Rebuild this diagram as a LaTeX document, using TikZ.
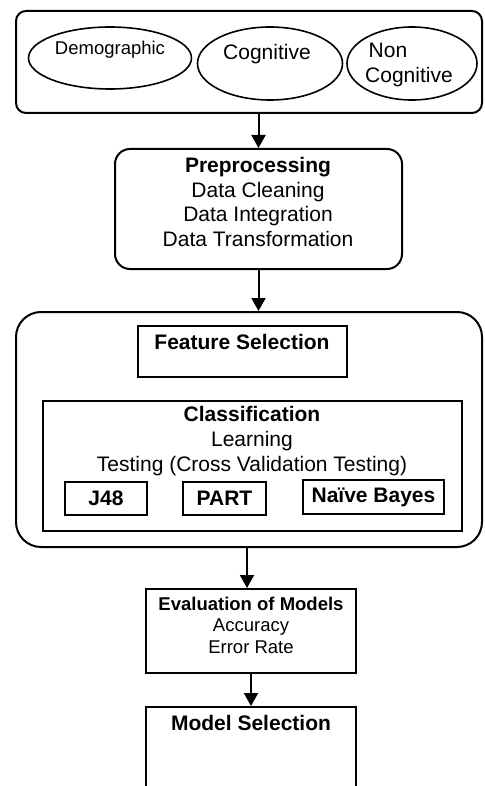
\documentclass[tikz,border=0pt]{standalone}
\usepackage{fontspec}
\setmainfont{Liberation Sans}
\usetikzlibrary{shapes.geometric,arrows.meta}

\begin{document}
\begin{tikzpicture}[x=1pt,y=-1pt,line width=2pt,
  every node/.style={inner sep=0pt},
  big/.style={font=\fontsize{21}{24.7}\selectfont,align=center},
  mid/.style={font=\fontsize{18.5}{21.5}\selectfont,align=center},
  oval/.style={ellipse,draw,line width=1.6pt},
  flow/.style={-{Triangle[length=13pt,width=14pt]}}]
  \useasboundingbox (0,0) rectangle (484,786);

  % data sources
  \node[draw,rounded corners=10pt,minimum width=466pt,minimum height=102pt] (src) at (249,62) {};
  \node[oval,minimum width=163pt,minimum height=62pt] (demo) at (110,58) {};
  \node[oval,minimum width=145pt,minimum height=73pt] (cog) at (270,63.5) {};
  \node[oval,minimum width=130pt,minimum height=73pt] (noncog) at (412,63.5) {};
  \node[mid] (demot) at (110,50) {Demographic};
  \node[big] (cogt) at (267,54) {Cognitive};
  \node[big,align=left] (noncogt) at (409,65) {\,Non\\Cognitive};

  % preprocessing
  \node[draw,rounded corners=15pt,minimum width=287pt,minimum height=120pt] (pre) at (258.5,209) {};
  \node[big] (pret) at (258,202) {\textbf{Preprocessing}\\Data Cleaning\\Data Integration\\Data Transformation};

  % feature selection and classification
  \node[draw,rounded corners=25pt,minimum width=466pt,minimum height=235pt] (mine) at (249,429.5) {};
  \node[draw,minimum width=209pt,minimum height=51pt] (feat) at (242.5,351.5) {};
  \node[big,font=\fontsize{21}{24.7}\selectfont\bfseries] (featt) at (242,342) {Feature Selection};
  \node[draw,minimum width=419pt,minimum height=130pt] (cls) at (252.5,466) {};
  \node[big] (clst) at (252,441) {\textbf{Classification}\\Learning\\Testing (Cross Validation Testing)};
  \node[draw,minimum width=82pt,minimum height=33pt,big,font=\fontsize{21}{24.7}\selectfont\bfseries] (j48) at (106,498.5) {J48};
  \node[draw,minimum width=83pt,minimum height=33pt,big,font=\fontsize{21}{24.7}\selectfont\bfseries] (part) at (224.5,498.5) {PART};
  \node[draw,minimum width=141pt,minimum height=34pt,big,font=\fontsize{21}{24.7}\selectfont\bfseries] (nb) at (373.5,497) {Naïve Bayes};

  % evaluation
  \node[draw,minimum width=210pt,minimum height=84pt] (eval) at (251,631) {};
  \node[mid] (evalt) at (251,625) {\textbf{Evaluation of Models}\\Accuracy\\Error Rate};
  \node[draw,minimum width=210pt,minimum height=110pt] (sel) at (251,762) {};
  \node[big,font=\fontsize{21}{24.7}\selectfont\bfseries] (selt) at (251,723) {Model Selection};

  % arrows between stages
  \draw[flow] (pre.north |- src.south) -- (pre.north);
  \draw[flow] (pre.south) -- (pre.south |- mine.north);
  \draw[flow] ([xshift=-4pt]eval.north |- mine.south) -- ([xshift=-4pt]eval.north);
  \draw[flow] (eval.south) -- (sel.north);
\end{tikzpicture}
\end{document}
